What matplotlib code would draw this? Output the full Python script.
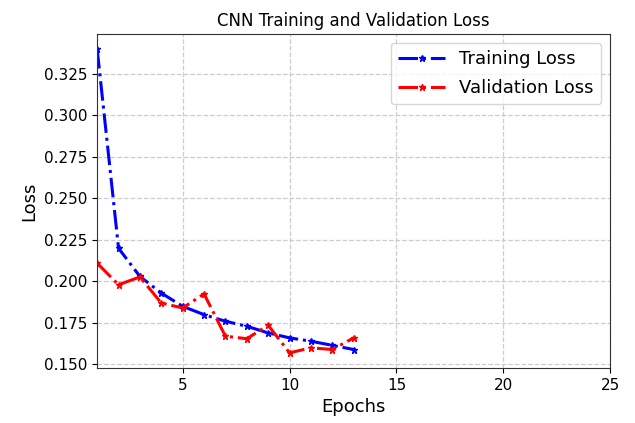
import numpy as np
import matplotlib
matplotlib.use("Agg")
import matplotlib.pyplot as plt

# values
epochs = np.arange(1, 14)
train_loss = [0.340, 0.220, 0.203, 0.193, 0.185, 0.180, 0.176,
              0.173, 0.169, 0.166, 0.164, 0.1615, 0.159]
val_loss = [0.211, 0.198, 0.2027, 0.187, 0.184, 0.1925, 0.167,
            0.1655, 0.1736, 0.157, 0.160, 0.159, 0.166]

fig = plt.figure(figsize=(6.35, 4.23), dpi=100)
ax = fig.add_axes([0.153, 0.130, 0.808, 0.790])

ax.plot(epochs, train_loss, 'b-.', marker='*', markersize=5, linewidth=2.2, label='Training Loss')
ax.plot(epochs, val_loss, 'r-.', marker='*', markersize=5, linewidth=2.2, label='Validation Loss')

ax.set_xlim(1, 25)
ax.set_xticks([5, 10, 15, 20, 25])
ax.set_yticks(np.arange(0.150, 0.326, 0.025))
ax.yaxis.set_major_formatter(matplotlib.ticker.FormatStrFormatter('%.3f'))
ax.tick_params(labelsize=11)

ax.grid(True, linestyle='--', color='#cccccc', linewidth=0.9)
for s in ax.spines.values():
    s.set_color('#333333')

ax.set_title('CNN Training and Validation Loss', fontsize=12)
ax.set_xlabel('Epochs', fontsize=13)
ax.set_ylabel('Loss', fontsize=13)
ax.legend(fontsize=13, loc='upper right', handlelength=2.6, labelspacing=0.6)

fig.savefig('out.png', dpi=100)
